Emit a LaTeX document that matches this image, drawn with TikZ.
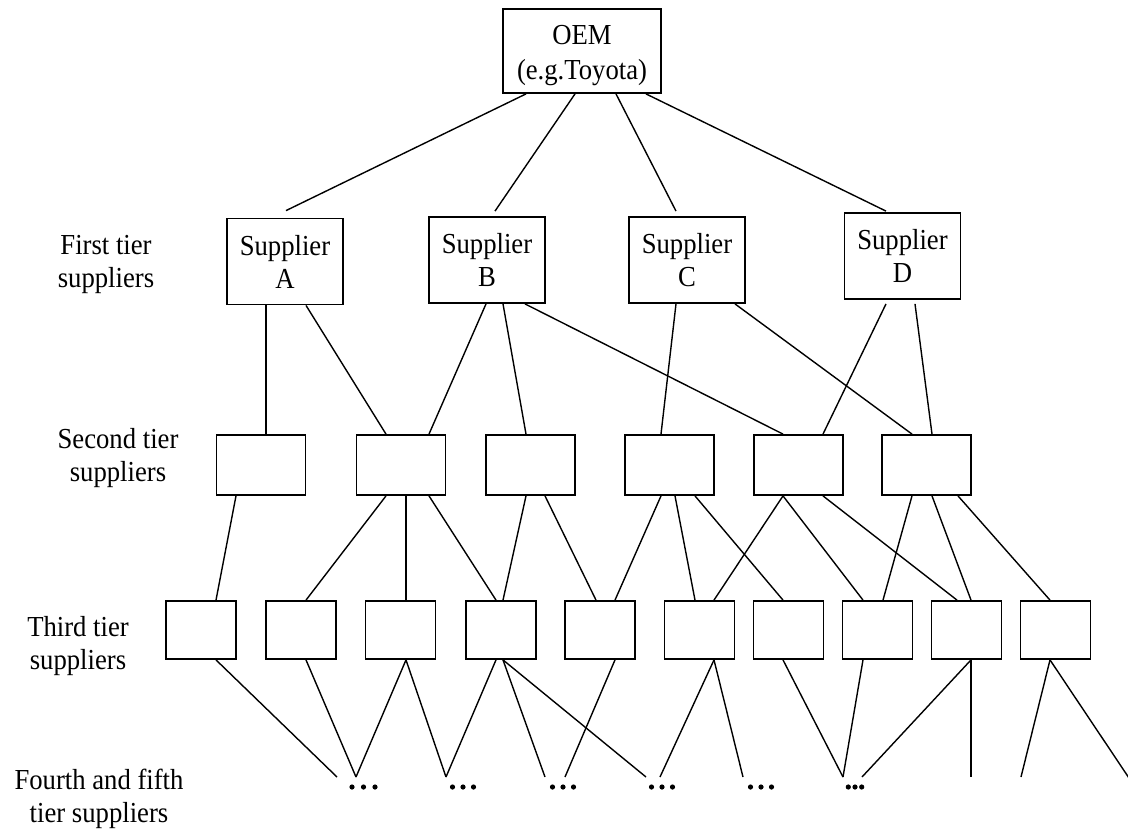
\documentclass[tikz,border=0pt]{standalone}
\usepackage{fontspec}
\setmainfont{Liberation Serif}[FakeStretch=0.92]
\begin{document}
\begin{tikzpicture}[x=1pt,y=-1pt,
  every node/.style={font=\fontsize{29}{33}\selectfont},
  box/.style={draw, line width=1.8pt, inner sep=0pt, align=center},
  oembox/.style={box, minimum width=158pt, minimum height=84pt},
  firstbox/.style={box, minimum width=116pt, minimum height=86pt},
  secondbox/.style={box, minimum width=89pt, minimum height=60pt},
  thirdbox/.style={box, minimum width=70pt, minimum height=58pt},
  tierlabel/.style={align=center, inner sep=0pt},
  link/.style={line width=1.4pt},
  dotmark/.style={fill=black}
]
\useasboundingbox (0,0) rectangle (1128,830);

% the manufacturer
\node[oembox] (oem) at (582,51) {\rule{0pt}{28pt}OEM\\[2pt](e.g.Toyota)};

% first tier
\node[firstbox] (A) at (285,261.5) {Supplier\\A};
\node[firstbox] (B) at (487,260) {Supplier\\B};
\node[firstbox] (C) at (687,260) {Supplier\\C};
\node[firstbox] (D) at (902.5,256) {Supplier\\D};

% second tier
\node[secondbox] (s1) at (261,465) {};
\node[secondbox] (s2) at (401,465) {};
\node[secondbox] (s3) at (530.5,465) {};
\node[secondbox] (s4) at (669.5,465) {};
\node[secondbox] (s5) at (798.5,465) {};
\node[secondbox] (s6) at (926.5,465) {};

% third tier
\node[thirdbox] (t1) at (201,630) {};
\node[thirdbox] (t2) at (301,630) {};
\node[thirdbox] (t3) at (400.5,630) {};
\node[thirdbox] (t4) at (501,630) {};
\node[thirdbox] (t5) at (600,630) {};
\node[thirdbox] (t6) at (699.5,630) {};
\node[thirdbox] (t7) at (788.5,630) {};
\node[thirdbox] (t8) at (877.5,630) {};
\node[thirdbox] (t9) at (966.5,630) {};
\node[thirdbox] (t10) at (1055.5,630) {};

% tier captions
\node[tierlabel] (lab1) at (106,264.6) {First tier\\suppliers};
\node[tierlabel] (lab2) at (118,457.6) {Second tier\\suppliers};
\node[tierlabel] (lab3) at (78,646.1) {Third tier\\suppliers};
\node[tierlabel] (lab4) at (99,799.1) {Fourth and fifth\\tier suppliers};

% open ends towards the fourth and fifth tiers
\coordinate (f1) at (337,777);
\coordinate (f2) at (356,777);
\coordinate (f3) at (446,777);
\coordinate (f4) at (545,777);
\coordinate (f5) at (565,777);
\coordinate (f6) at (646,777);
\coordinate (f7) at (660,777);
\coordinate (f8) at (743,777);
\coordinate (f9) at (843,777);
\coordinate (f10) at (862,777);
\coordinate (f11) at (971,777);
\coordinate (f12) at (1021,777);
\coordinate (f13) at (1129,778);

% manufacturer to first tier
\draw[link] ([xshift=-56pt]oem.south) -- ([xshift=1pt,yshift=7pt]A.north);
\draw[link] ([xshift=-7pt]oem.south) -- ([xshift=8pt,yshift=5pt]B.north);
\draw[link] ([xshift=34pt]oem.south) -- ([xshift=-11pt,yshift=5pt]C.north);
\draw[link] ([xshift=64pt]oem.south) -- ([xshift=-16.5pt,yshift=1pt]D.north);

% first tier to second tier
\draw[link] ([xshift=-19pt]A.south) -- ([xshift=5pt]s1.north);
\draw[link] ([xshift=21pt]A.south) -- ([xshift=-15pt]s2.north);
\draw[link] ([xshift=-1pt]B.south) -- ([xshift=28pt]s2.north);
\draw[link] ([xshift=16pt]B.south) -- ([xshift=-4.5pt]s3.north);
\draw[link] ([xshift=38pt]B.south) -- ([xshift=-15.5pt]s5.north);
\draw[link] ([xshift=-11pt]C.south) -- ([xshift=-8.5pt]s4.north);
\draw[link] ([xshift=48pt]C.south) -- ([xshift=-14.5pt]s6.north);
\draw[link] ([xshift=-16.5pt,yshift=-4pt]D.south) -- ([xshift=24.5pt]s5.north);
\draw[link] ([xshift=12.5pt,yshift=-4pt]D.south) -- ([xshift=5.5pt]s6.north);

% second tier to third tier
\draw[link] ([xshift=-25pt]s1.south) -- ([xshift=15pt]t1.north);
\draw[link] ([xshift=-15pt]s2.south) -- ([xshift=5pt]t2.north);
\draw[link] ([xshift=5pt]s2.south) -- ([xshift=5.5pt]t3.north);
\draw[link] ([xshift=28pt]s2.south) -- ([xshift=-5pt]t4.north);
\draw[link] ([xshift=-4.5pt]s3.south) -- ([xshift=2pt]t4.north);
\draw[link] ([xshift=14.5pt]s3.south) -- ([xshift=-4pt]t5.north);
\draw[link] ([xshift=-8.5pt]s4.south) -- ([xshift=15pt]t5.north);
\draw[link] ([xshift=5.5pt]s4.south) -- ([xshift=-4.5pt]t6.north);
\draw[link] ([xshift=25.5pt]s4.south) -- ([xshift=-5.5pt]t7.north);
\draw[link] ([xshift=-15.5pt]s5.south) -- ([xshift=14.5pt]t6.north);
\draw[link] ([xshift=-15.5pt]s5.south) -- ([xshift=-14.5pt]t8.north);
\draw[link] ([xshift=24.5pt]s5.south) -- ([xshift=-9.5pt]t9.north);
\draw[link] ([xshift=-14.5pt]s6.south) -- ([xshift=5.5pt]t8.north);
\draw[link] ([xshift=5.5pt]s6.south) -- ([xshift=4.5pt]t9.north);
\draw[link] ([xshift=31.5pt]s6.south) -- ([xshift=-5.5pt]t10.north);

% third tier onwards
\draw[link] ([xshift=15pt]t1.south) -- (f1);
\draw[link] ([xshift=5pt]t2.south) -- (f2);
\draw[link] ([xshift=5.5pt]t3.south) -- (f2);
\draw[link] ([xshift=5.5pt]t3.south) -- (f3);
\draw[link] ([xshift=-5pt]t4.south) -- (f3);
\draw[link] ([xshift=2pt]t4.south) -- (f4);
\draw[link] ([xshift=2pt]t4.south) -- (f6);
\draw[link] ([xshift=15pt]t5.south) -- (f5);
\draw[link] ([xshift=14.5pt]t6.south) -- (f7);
\draw[link] ([xshift=14.5pt]t6.south) -- (f8);
\draw[link] ([xshift=-5.5pt]t7.south) -- (f9);
\draw[link] ([xshift=-14.5pt]t8.south) -- (f9);
\draw[link] ([xshift=4.5pt]t9.south) -- (f10);
\draw[link] ([xshift=4.5pt]t9.south) -- (f11);
\draw[link] ([xshift=-5.5pt]t10.south) -- (f12);
\draw[link] ([xshift=-5.5pt]t10.south) -- (f13);

% ellipsis marks for the further tiers
\foreach \cx/\sp in {363.5/11.5, 463/10.5, 563/10.5, 662/10.5, 761/10.5, 855/6.7}
  \foreach \k in {-1,0,1}
    \fill[dotmark] (\cx+\k*\sp,787) circle[radius=2.6pt];
\end{tikzpicture}
\end{document}
